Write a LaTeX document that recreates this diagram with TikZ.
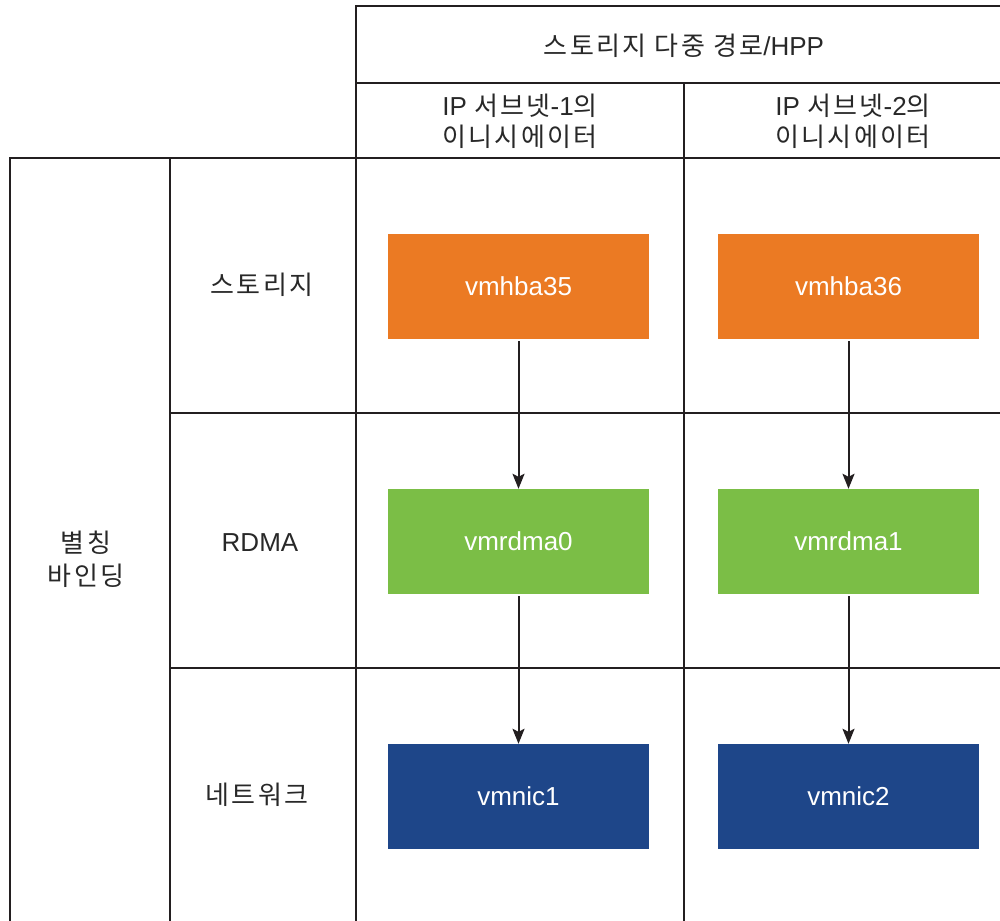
\documentclass[tikz,border=0pt]{standalone}
\usepackage{fontspec}
\setmainfont{Liberation Sans}
\newfontfamily\kr[LetterSpace=9]{Noto Sans CJK KR}
\usetikzlibrary{arrows.meta}
\definecolor{gridline}{RGB}{35,31,32}
\definecolor{txt}{RGB}{40,40,40}
\definecolor{hbaorange}{RGB}{235,122,35}
\definecolor{rdmagreen}{RGB}{123,190,70}
\definecolor{nicblue}{RGB}{30,70,137}
\tikzset{
  grid/.style={draw=gridline, line width=2pt},
  label/.style={text=txt, font=\fontsize{26}{31}\selectfont, align=center, inner sep=0pt},
  adapter/.style={minimum width=261pt, minimum height=105pt, inner sep=0pt,
    text=white, font=\fontsize{26}{30}\selectfont},
  hba/.style={adapter, fill=hbaorange},
  rdma/.style={adapter, fill=rdmagreen},
  nic/.style={adapter, fill=nicblue},
  link/.style={draw=gridline, line width=2pt, -{Stealth[length=15pt,width=12pt,inset=3pt]}}
}
\begin{document}
\begin{tikzpicture}[x=1pt,y=-1pt]
\useasboundingbox (0,0) rectangle (1000,920);

% table frame
\draw[grid] (1012,6) -- (356,6) -- (356,930);
\draw[grid] (356,83) -- (1012,83);
\draw[grid] (684,83) -- (684,930);
\draw[grid] (10,930) -- (10,158) -- (1012,158);
\draw[grid] (170,158) -- (170,930);
\draw[grid] (170,413) -- (1012,413);
\draw[grid] (170,668) -- (1012,668);

% headers
\node[label] (head) at (684,46) {{\kr 스토리지 다중 경로}/HPP};
\node[label] (sub1) at (520,121) {IP {\kr 서브넷}-1{\kr 의}\\{\kr 이니시에이터}};
\node[label] (sub2) at (853,121) {IP {\kr 서브넷}-2{\kr 의}\\{\kr 이니시에이터}};
\node[label, font=\fontsize{26}{33}\selectfont] (bind) at (86,559) {{\kr 별칭}\\{\kr 바인딩}};
\node[label] (rowstor) at (262,285) {\kr 스토리지};
\node[label] (rowrdma) at (260,543) {RDMA};
\node[label] (rownet) at (257,795) {\kr 네트워크};

% adapters
\node[hba] (hba35) at (518.5,286.5) {vmhba35};
\node[hba] (hba36) at (848.5,286.5) {vmhba36};
\node[rdma] (rdma0) at (518.5,541.5) {vmrdma0};
\node[rdma] (rdma1) at (848.5,541.5) {vmrdma1};
\node[nic] (nic1) at (518.5,796.5) {vmnic1};
\node[nic] (nic2) at (848.5,796.5) {vmnic2};

% bindings
\draw[link] ([yshift=-2pt]hba35.south) -- (rdma0.north);
\draw[link] ([yshift=-2pt]hba36.south) -- (rdma1.north);
\draw[link] ([yshift=-2pt]rdma0.south) -- (nic1.north);
\draw[link] ([yshift=-2pt]rdma1.south) -- (nic2.north);
\end{tikzpicture}
\end{document}
